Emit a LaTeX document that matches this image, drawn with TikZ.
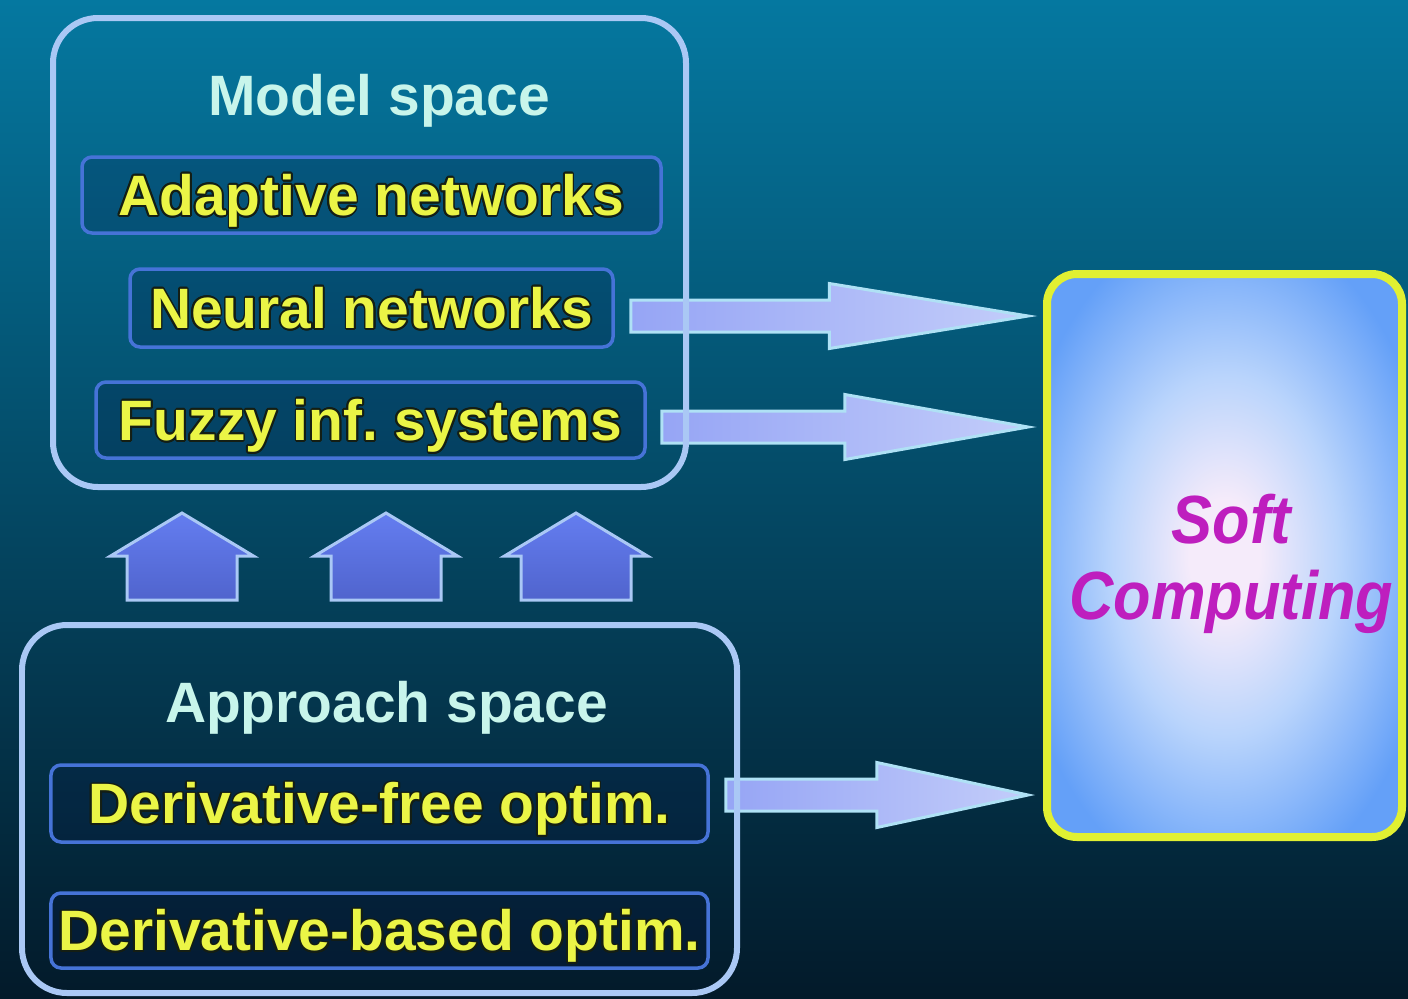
\documentclass[tikz,border=0pt]{standalone}
\usepackage{fontspec}
\setmainfont{Liberation Sans}
\newfontfamily\softfont[FakeStretch=0.9]{Liberation Sans}
\usepackage{contour}
\contourlength{0.5pt}
\usetikzlibrary{calc}

\definecolor{bgtop}{RGB}{5,120,160}
\definecolor{bgmid}{RGB}{5,70,98}
\definecolor{bgbot}{RGB}{3,26,42}
\definecolor{frameblue}{RGB}{170,200,245}
\definecolor{itemline}{RGB}{70,115,215}
\definecolor{itemfill}{RGB}{8,22,70}
\definecolor{itemcol}{RGB}{235,245,70}
\definecolor{itemshadow}{RGB}{20,30,20}
\definecolor{titlecol}{RGB}{200,245,235}
\definecolor{arrfill}{RGB}{150,165,245}
\definecolor{arrfilltwo}{RGB}{195,205,250}
\definecolor{arrline}{RGB}{175,225,245}
\definecolor{upfill}{RGB}{100,125,240}
\definecolor{upfilltwo}{RGB}{80,100,205}
\definecolor{softyellow}{RGB}{225,240,50}
\definecolor{softblue}{RGB}{100,160,248}
\definecolor{softglow}{RGB}{245,235,250}
\definecolor{softmagenta}{RGB}{190,30,190}

\pgfdeclareradialshading{softshade}{\pgfpoint{0bp}{0bp}}{%
  color(0bp)=(softglow); color(5bp)=(softglow);
  color(16bp)=(softblue!45!white); color(30bp)=(softblue); color(70bp)=(softblue)}

\pgfdeclarelayer{backdrop}
\pgfdeclarelayer{arrowlayer}
\pgfsetlayers{backdrop,arrowlayer,main}

\tikzset{
  spacebox/.style={draw=frameblue, line width=0.06cm, rounded corners=0.45cm, inner sep=0pt},
  spacetitle/.style={text=titlecol, anchor=base, inner sep=0pt,
    font=\bfseries\fontsize{16.2}{19}\selectfont},
  itembox/.style={draw=itemline, line width=0.035cm, rounded corners=0.1cm,
    fill=itemfill, fill opacity=0.22, text opacity=1, text=itemcol, inner sep=0pt,
    font=\bfseries\fontsize{16.2}{19}\selectfont, text height=11.6pt, text depth=0pt},
  softlabel/.style={align=center, text=softmagenta, inner sep=0pt,
    font=\softfont\bfseries\itshape\fontsize{19.4}{21.6}\selectfont},
  fatarrow/.style={draw=arrline, line width=0.03cm, left color=arrfill, right color=arrfilltwo},
  housearrow/.style={draw=frameblue, line width=0.03cm, top color=upfill, bottom color=upfilltwo},
}

% fat arrow pointing right, head takes the second half
\newcommand{\fatarrowpath}[2]{%
  \coordinate (#1-mid) at ($(#1)!0.5!(#2)$);
  \path[fatarrow] ($(#1)+(0,0.16)$) -- ($(#1-mid)+(0,0.16)$) -- ($(#1-mid)+(0,0.325)$)
    -- (#2) -- ($(#1-mid)+(0,-0.325)$) -- ($(#1-mid)+(0,-0.16)$) -- ($(#1)+(0,-0.16)$) -- cycle;}

% house shaped arrow pointing up
\newcommand{\housearrowpath}[2]{%
  \path[housearrow] ($(#1)+(-0.55,0)$) -- ($(#2)+(-0.55,-0.43)$) -- ($(#2)+(-0.715,-0.43)$)
    -- (#2) -- ($(#2)+(0.715,-0.43)$) -- ($(#2)+(0.55,-0.43)$) -- ($(#1)+(0.55,0)$) -- cycle;}

\begin{document}
\begin{tikzpicture}
\useasboundingbox (0,0) rectangle (14.08,-9.98);
\clip (0,0) rectangle (14.08,-9.98);
\begin{pgfonlayer}{backdrop}
  \fill[top color=bgtop, middle color=bgmid, bottom color=bgbot] (0,0) rectangle (14.08,-9.98);
\end{pgfonlayer}

% model space
\node[spacebox, minimum width=6.33cm, minimum height=4.69cm] (model) at (3.695,-2.525) {};
\node[spacetitle] (modeltitle) at (3.79,-1.15) {Model space};
\node[itembox, minimum width=5.79cm, minimum height=0.76cm] (adaptive) at (3.715,-1.95) {\contour{itemshadow}{Adaptive networks}};
\node[itembox, minimum width=4.83cm, minimum height=0.78cm] (neural) at (3.715,-3.08) {\contour{itemshadow}{Neural networks}};
\node[itembox, minimum width=5.49cm, minimum height=0.76cm] (fuzzy) at (3.705,-4.20) {\contour{itemshadow}{Fuzzy inf.\ systems}};

% approach space
\node[spacebox, minimum width=7.15cm, minimum height=3.68cm] (approach) at (3.795,-8.09) {};
\node[spacetitle] (approachtitle) at (3.865,-7.22) {Approach space};
\node[itembox, minimum width=6.57cm, minimum height=0.77cm] (dfree) at (3.795,-8.035) {\contour{itemshadow}{Derivative-free optim.}};
\node[itembox, minimum width=6.57cm, minimum height=0.75cm] (dbased) at (3.795,-9.305) {\contour{itemshadow}{Derivative-based optim.}};

% soft computing
\node[draw=softyellow, line width=0.08cm, rounded corners=0.3cm, shade, shading=softshade,
  minimum width=3.55cm, minimum height=5.63cm] (soft) at (12.245,-5.555) {};
\node[softlabel] (softtext) at ($(soft.center)+(0.07,-0.08)$) {Soft\\Computing};

% arrow ends
\coordinate (a1s) at ($(neural.east)+(0.16,-0.08)$);
\coordinate (a1e) at ($(soft.west |- a1s)+(-0.15,0)$);
\coordinate (a2s) at ($(fuzzy.east)+(0.15,-0.07)$);
\coordinate (a2e) at ($(soft.west |- a2s)+(-0.15,0)$);
\coordinate (a3s) at ($(dfree.east)+(0.16,0.085)$);
\coordinate (a3e) at ($(soft.west |- a3s)+(-0.15,0)$);

\begin{pgfonlayer}{arrowlayer}
  \fatarrowpath{a1s}{a1e}
  \fatarrowpath{a2s}{a2e}
  \fatarrowpath{a3s}{a3e}
  \foreach \ux/\n in {1.82/1, 3.86/2, 5.76/3} {
    \coordinate (up\n s) at ($(\ux,0 |- approach.north)+(0,0.22)$);
    \coordinate (up\n e) at ($(\ux,0 |- model.south)+(0,-0.23)$);
    \housearrowpath{up\n s}{up\n e}
  }
\end{pgfonlayer}
\end{tikzpicture}
\end{document}
